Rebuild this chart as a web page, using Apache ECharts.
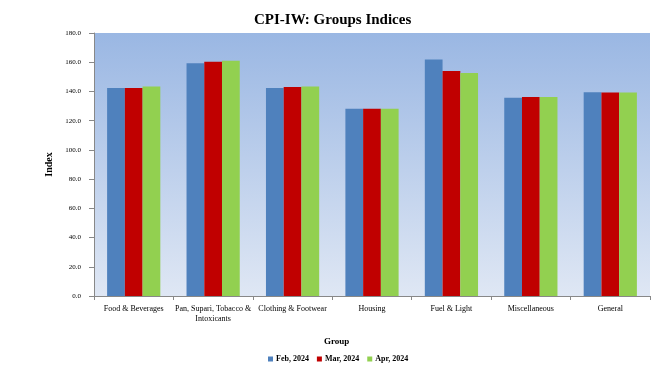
<!DOCTYPE html>
<html><head><meta charset="utf-8">
<script src="https://cdn.jsdelivr.net/npm/echarts@6/dist/echarts.min.js"></script>
<style>html,body{margin:0;padding:0;background:#fff}#c{width:655px;height:374px}</style>
</head><body><div id="c"></div>
<script>
const categories = ['Food & Beverages', 'Pan, Supari, Tobacco &\nIntoxicants', 'Clothing & Footwear', 'Housing', 'Fuel & Light', 'Miscellaneous', 'General'];
const seriesNames = ['Feb, 2024', 'Mar, 2024', 'Apr, 2024'];
const feb = [142.4, 159.3, 142.4, 128.2, 161.8, 135.7, 139.4];
const mar = [142.4, 160.4, 143.1, 128.2, 154.0, 136.2, 139.2];
const apr = [143.3, 161.0, 143.3, 128.2, 152.6, 136.2, 139.2];
const colors = ['#4f81bd', '#c00000', '#92d050'];
const font = 'Liberation Serif';
const chart = echarts.init(document.getElementById('c'));
chart.setOption({
  animation: false,
  textStyle: {fontFamily: font},
  title: {text: 'CPI-IW: Groups Indices', left: 249, top: 8, textStyle: {fontFamily: font, fontSize: 15, fontWeight: 'bold', color: '#000'}},
  legend: {bottom: 6, left: 263, itemWidth: 5, itemHeight: 5, itemGap: 8, icon: 'rect', textStyle: {fontFamily: font, fontSize: 8, fontWeight: 'bold', color: '#000', padding: [0, 0, 0, -2]}, data: seriesNames},
  graphic: [{type: 'text', left: 324, top: 337, style: {text: 'Group', fontFamily: font, fontSize: 9, fontWeight: 'bold', fill: '#000'}}],
  grid: {left: 94, right: 5, top: 33, bottom: 78, show: true, borderWidth: 0,
    backgroundColor: new echarts.graphic.LinearGradient(0, 0, 0, 1, [{offset: 0, color: '#9ab7e3'}, {offset: 1, color: '#dfe7f4'}])},
  xAxis: {type: 'category', data: categories,
    axisLine: {lineStyle: {color: '#888'}}, axisTick: {show: true, alignWithLabel: false, length: 4, lineStyle: {color: '#888'}},
    axisLabel: {fontFamily: font, fontSize: 8, color: '#000', interval: 0, margin: 8, lineHeight: 10}},
  yAxis: {type: 'value', min: 0, max: 180, interval: 20, name: 'Index', nameLocation: 'middle', nameGap: 35,
    nameTextStyle: {fontFamily: font, fontSize: 10, fontWeight: 'bold', color: '#000'},
    axisLine: {show: true, lineStyle: {color: '#888'}}, axisTick: {show: true, length: 5, lineStyle: {color: '#888'}},
    splitLine: {show: false},
    axisLabel: {fontFamily: font, fontSize: 7, color: '#000', margin: 13, formatter: v => v.toFixed(1)}},
  series: [feb, mar, apr].map((d, i) => ({
    name: seriesNames[i], type: 'bar', data: d, barGap: '0%', barCategoryGap: '33%',
    itemStyle: {color: colors[i]}
  }))
});
</script></body></html>
